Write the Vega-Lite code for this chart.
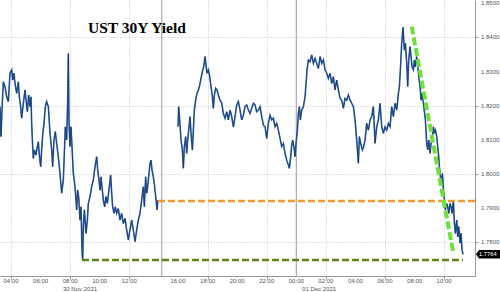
{
  "$schema": "https://vega.github.io/schema/vega-lite/v6.json",
  "width": 475,
  "height": 276,
  "autosize": {"type": "none"},
  "padding": {"left": 0, "top": 0, "right": 25, "bottom": 16},
  "background": "white",
  "title": {"text": "UST 30Y Yield", "anchor": "start", "frame": "group", "dx": 88, "dy": 49, "offset": 0, "baseline": "alphabetic", "font": "Liberation Serif", "fontSize": 15.5, "fontWeight": "bold", "color": "#000000"},
  "config": {
    "view": {"stroke": null},
    "axis": {"labels": false, "gridColor": "#c4c4c4", "gridDash": [1, 2], "gridWidth": 1, "domainColor": "#999999", "tickColor": "#999999", "title": null}
  },
  "datasets": {
    "yield": [
      {"t":3.256,"v":1.8197,"s":1},{"t":3.323,"v":1.8109,"s":1},{"t":3.391,"v":1.8187,"s":1},{"t":3.481,"v":1.8270,"s":1},{"t":3.594,"v":1.8256,"s":1},{"t":3.707,"v":1.8226,"s":1},{"t":3.820,"v":1.8212,"s":1},{"t":3.932,"v":1.8295,"s":1},{"t":4.045,"v":1.8305,"s":1},{"t":4.113,"v":1.8275,"s":1},{"t":4.203,"v":1.8295,"s":1},{"t":4.271,"v":1.8265,"s":1},{"t":4.383,"v":1.8236,"s":1},{"t":4.496,"v":1.8270,"s":1},{"t":4.564,"v":1.8226,"s":1},{"t":4.654,"v":1.8197,"s":1},{"t":4.722,"v":1.8163,"s":1},{"t":4.834,"v":1.8207,"s":1},{"t":4.947,"v":1.8246,"s":1},{"t":5.015,"v":1.8217,"s":1},{"t":5.105,"v":1.8182,"s":1},{"t":5.195,"v":1.8231,"s":1},{"t":5.286,"v":1.8197,"s":1},{"t":5.353,"v":1.8226,"s":1},{"t":5.398,"v":1.8148,"s":1},{"t":5.466,"v":1.8080,"s":1},{"t":5.511,"v":1.8045,"s":1},{"t":5.579,"v":1.8070,"s":1},{"t":5.691,"v":1.8055,"s":1},{"t":5.782,"v":1.8080,"s":1},{"t":5.849,"v":1.8094,"s":1},{"t":5.917,"v":1.8055,"s":1},{"t":6.007,"v":1.8021,"s":1},{"t":6.075,"v":1.8070,"s":1},{"t":6.143,"v":1.8114,"s":1},{"t":6.233,"v":1.8148,"s":1},{"t":6.323,"v":1.8197,"s":1},{"t":6.413,"v":1.8212,"s":1},{"t":6.526,"v":1.8197,"s":1},{"t":6.639,"v":1.8119,"s":1},{"t":6.751,"v":1.8070,"s":1},{"t":6.819,"v":1.8021,"s":1},{"t":6.909,"v":1.8099,"s":1},{"t":6.999,"v":1.8124,"s":1},{"t":7.090,"v":1.8089,"s":1},{"t":7.202,"v":1.8050,"s":1},{"t":7.315,"v":1.8001,"s":1},{"t":7.428,"v":1.7943,"s":1},{"t":7.541,"v":1.7982,"s":1},{"t":7.608,"v":1.8060,"s":1},{"t":7.676,"v":1.8138,"s":1},{"t":7.766,"v":1.8099,"s":1},{"t":7.834,"v":1.8217,"s":1},{"t":7.879,"v":1.8353,"s":1},{"t":7.924,"v":1.8148,"s":1},{"t":7.992,"v":1.8080,"s":1},{"t":8.059,"v":1.8138,"s":1},{"t":8.127,"v":1.8080,"s":1},{"t":8.217,"v":1.8001,"s":1},{"t":8.330,"v":1.7962,"s":1},{"t":8.443,"v":1.7894,"s":1},{"t":8.510,"v":1.7952,"s":1},{"t":8.578,"v":1.7933,"s":1},{"t":8.668,"v":1.7864,"s":1},{"t":8.736,"v":1.7903,"s":1},{"t":8.804,"v":1.7776,"s":1},{"t":8.849,"v":1.7747,"s":1},{"t":8.894,"v":1.7845,"s":1},{"t":8.962,"v":1.7894,"s":1},
      {"t":9.074,"v":1.7825,"s":1},{"t":9.165,"v":1.7864,"s":1},{"t":9.232,"v":1.7913,"s":1},{"t":9.345,"v":1.7933,"s":1},{"t":9.458,"v":1.7962,"s":1},{"t":9.571,"v":1.7982,"s":1},{"t":9.683,"v":1.8021,"s":1},{"t":9.796,"v":1.8050,"s":1},{"t":9.864,"v":1.8011,"s":1},{"t":9.954,"v":1.7982,"s":1},{"t":10.022,"v":1.7952,"s":1},{"t":10.089,"v":1.7991,"s":1},{"t":10.157,"v":1.7962,"s":1},{"t":10.247,"v":1.7923,"s":1},{"t":10.337,"v":1.7903,"s":1},{"t":10.428,"v":1.7933,"s":1},{"t":10.518,"v":1.7913,"s":1},{"t":10.653,"v":1.7962,"s":1},{"t":10.743,"v":1.7996,"s":1},{"t":10.811,"v":1.7943,"s":1},{"t":10.879,"v":1.7903,"s":1},{"t":10.969,"v":1.7884,"s":1},{"t":11.059,"v":1.7903,"s":1},{"t":11.149,"v":1.7884,"s":1},{"t":11.262,"v":1.7898,"s":1},{"t":11.375,"v":1.7864,"s":1},{"t":11.488,"v":1.7884,"s":1},{"t":11.600,"v":1.7854,"s":1},{"t":11.713,"v":1.7869,"s":1},{"t":11.826,"v":1.7835,"s":1},{"t":11.939,"v":1.7806,"s":1},{"t":12.051,"v":1.7835,"s":1},{"t":12.164,"v":1.7864,"s":1},{"t":12.277,"v":1.7835,"s":1},{"t":12.390,"v":1.7801,"s":1},{"t":12.502,"v":1.7835,"s":1},{"t":12.615,"v":1.7864,"s":1},{"t":12.728,"v":1.7884,"s":1},{"t":12.841,"v":1.7923,"s":1},{"t":12.954,"v":1.7962,"s":1},{"t":13.021,"v":1.7903,"s":1},{"t":13.111,"v":1.7991,"s":1},{"t":13.179,"v":1.7943,"s":1},{"t":13.247,"v":1.7962,"s":1},{"t":13.337,"v":1.8001,"s":1},{"t":13.405,"v":1.8031,"s":1},{"t":13.472,"v":1.8040,"s":1},{"t":13.540,"v":1.8011,"s":1},{"t":13.630,"v":1.7991,"s":1},{"t":13.720,"v":1.7962,"s":1},{"t":13.811,"v":1.7923,"s":1},{"t":13.878,"v":1.7894,"s":1},{"t":13.946,"v":1.7923,"s":1},
      {"t":15.299,"v":1.8138,"s":2},{"t":15.344,"v":1.8197,"s":2},{"t":15.412,"v":1.8158,"s":2},{"t":15.502,"v":1.8099,"s":2},{"t":15.592,"v":1.8070,"s":2},{"t":15.660,"v":1.8016,"s":2},{"t":15.728,"v":1.8080,"s":2},{"t":15.818,"v":1.8109,"s":2},{"t":15.885,"v":1.8060,"s":2},{"t":15.953,"v":1.8099,"s":2},{"t":16.043,"v":1.8138,"s":2},{"t":16.111,"v":1.8168,"s":2},{"t":16.179,"v":1.8119,"s":2},{"t":16.269,"v":1.8070,"s":2},{"t":16.337,"v":1.8128,"s":2},{"t":16.404,"v":1.8187,"s":2},{"t":16.494,"v":1.8217,"s":2},{"t":16.585,"v":1.8236,"s":2},{"t":16.675,"v":1.8246,"s":2},{"t":16.765,"v":1.8260,"s":2},{"t":16.855,"v":1.8280,"s":2},{"t":16.946,"v":1.8300,"s":2},{"t":17.036,"v":1.8314,"s":2},{"t":17.126,"v":1.8344,"s":2},{"t":17.194,"v":1.8319,"s":2},{"t":17.261,"v":1.8295,"s":2},{"t":17.352,"v":1.8305,"s":2},{"t":17.442,"v":1.8285,"s":2},{"t":17.532,"v":1.8256,"s":2},{"t":17.622,"v":1.8226,"s":2},{"t":17.690,"v":1.8192,"s":2},{"t":17.758,"v":1.8231,"s":2},{"t":17.848,"v":1.8251,"s":2},{"t":17.938,"v":1.8246,"s":2},{"t":18.028,"v":1.8231,"s":2},{"t":18.141,"v":1.8217,"s":2},{"t":18.254,"v":1.8207,"s":2},{"t":18.366,"v":1.8177,"s":2},{"t":18.479,"v":1.8163,"s":2},{"t":18.592,"v":1.8182,"s":2},{"t":18.705,"v":1.8158,"s":2},{"t":18.817,"v":1.8187,"s":2},{"t":18.930,"v":1.8168,"s":2},{"t":19.043,"v":1.8138,"s":2},{"t":19.156,"v":1.8168,"s":2},{"t":19.269,"v":1.8202,"s":2},{"t":19.381,"v":1.8212,"s":2},{"t":19.494,"v":1.8187,"s":2},{"t":19.607,"v":1.8158,"s":2},{"t":19.720,"v":1.8172,"s":2},{"t":19.832,"v":1.8197,"s":2},{"t":19.945,"v":1.8202,"s":2},{"t":20.058,"v":1.8187,"s":2},{"t":20.171,"v":1.8177,"s":2},
      {"t":20.283,"v":1.8192,"s":2},{"t":20.396,"v":1.8207,"s":2},{"t":20.509,"v":1.8202,"s":2},{"t":20.622,"v":1.8182,"s":2},{"t":20.734,"v":1.8187,"s":2},{"t":20.847,"v":1.8197,"s":2},{"t":20.960,"v":1.8168,"s":2},{"t":21.073,"v":1.8143,"s":2},{"t":21.186,"v":1.8138,"s":2},{"t":21.298,"v":1.8104,"s":2},{"t":21.411,"v":1.8148,"s":2},{"t":21.524,"v":1.8172,"s":2},{"t":21.637,"v":1.8158,"s":2},{"t":21.749,"v":1.8163,"s":2},{"t":21.862,"v":1.8138,"s":2},{"t":21.975,"v":1.8148,"s":2},{"t":22.088,"v":1.8128,"s":2},{"t":22.200,"v":1.8104,"s":2},{"t":22.313,"v":1.8080,"s":2},{"t":22.426,"v":1.8089,"s":2},{"t":22.539,"v":1.8060,"s":2},{"t":22.652,"v":1.8040,"s":2},{"t":22.764,"v":1.8026,"s":2},{"t":22.832,"v":1.8016,"s":2},{"t":22.922,"v":1.8050,"s":2},{"t":22.990,"v":1.8084,"s":2},{"t":23.058,"v":1.8099,"s":2},{"t":23.148,"v":1.8075,"s":2},{"t":23.215,"v":1.8050,"s":2},{"t":23.283,"v":1.8089,"s":2},{"t":23.373,"v":1.8128,"s":2},{"t":23.441,"v":1.8177,"s":2},{"t":23.508,"v":1.8197,"s":2},{"t":23.576,"v":1.8158,"s":2},{"t":23.666,"v":1.8187,"s":2},{"t":23.779,"v":1.8197,"s":2},{"t":23.892,"v":1.8226,"s":2},{"t":23.960,"v":1.8265,"s":2},{"t":24.027,"v":1.8305,"s":2},{"t":24.117,"v":1.8334,"s":2},{"t":24.230,"v":1.8329,"s":2},{"t":24.343,"v":1.8349,"s":2},{"t":24.456,"v":1.8324,"s":2},{"t":24.569,"v":1.8339,"s":2},{"t":24.681,"v":1.8324,"s":2},{"t":24.794,"v":1.8309,"s":2},{"t":24.907,"v":1.8344,"s":2},{"t":25.020,"v":1.8324,"s":2},{"t":25.132,"v":1.8334,"s":2},{"t":25.245,"v":1.8305,"s":2},
      {"t":25.358,"v":1.8295,"s":2},{"t":25.471,"v":1.8280,"s":2},{"t":25.583,"v":1.8295,"s":2},{"t":25.696,"v":1.8265,"s":2},{"t":25.809,"v":1.8285,"s":2},{"t":25.922,"v":1.8246,"s":2},{"t":26.034,"v":1.8275,"s":2},{"t":26.147,"v":1.8246,"s":2},{"t":26.260,"v":1.8221,"s":2},{"t":26.373,"v":1.8216,"s":2},{"t":26.486,"v":1.8192,"s":2},{"t":26.598,"v":1.8221,"s":2},{"t":26.711,"v":1.8216,"s":2},{"t":26.824,"v":1.8231,"s":2},{"t":26.937,"v":1.8216,"s":2},{"t":27.049,"v":1.8207,"s":2},{"t":27.162,"v":1.8197,"s":2},{"t":27.275,"v":1.8158,"s":2},{"t":27.388,"v":1.8099,"s":2},{"t":27.500,"v":1.8031,"s":2},{"t":27.568,"v":1.8109,"s":2},{"t":27.658,"v":1.8089,"s":2},{"t":27.771,"v":1.8070,"s":2},{"t":27.861,"v":1.8080,"s":2},{"t":27.951,"v":1.8099,"s":2},{"t":28.064,"v":1.8148,"s":2},{"t":28.177,"v":1.8128,"s":2},{"t":28.290,"v":1.8158,"s":2},{"t":28.402,"v":1.8168,"s":2},{"t":28.515,"v":1.8197,"s":2},{"t":28.628,"v":1.8089,"s":2},{"t":28.741,"v":1.8138,"s":2},{"t":28.853,"v":1.8158,"s":2},{"t":28.966,"v":1.8207,"s":2},{"t":29.079,"v":1.8138,"s":2},{"t":29.192,"v":1.8119,"s":2},{"t":29.304,"v":1.8138,"s":2},{"t":29.417,"v":1.8128,"s":2},{"t":29.530,"v":1.8148,"s":2},{"t":29.643,"v":1.8138,"s":2},{"t":29.756,"v":1.8197,"s":2},{"t":29.868,"v":1.8168,"s":2},{"t":29.981,"v":1.8207,"s":2},{"t":30.094,"v":1.8187,"s":2},{"t":30.207,"v":1.8236,"s":2},{"t":30.274,"v":1.8256,"s":2},{"t":30.342,"v":1.8305,"s":2},{"t":30.432,"v":1.8383,"s":2},{"t":30.520,"v":1.8430,"s":2},
      {"t":30.613,"v":1.8363,"s":2},{"t":30.681,"v":1.8383,"s":2},{"t":30.771,"v":1.8324,"s":2},{"t":30.839,"v":1.8256,"s":2},{"t":30.906,"v":1.8334,"s":2},{"t":30.997,"v":1.8373,"s":2},{"t":31.064,"v":1.8344,"s":2},{"t":31.132,"v":1.8314,"s":2},{"t":31.222,"v":1.8305,"s":2},{"t":31.290,"v":1.8334,"s":2},{"t":31.357,"v":1.8314,"s":2},{"t":31.448,"v":1.8344,"s":2},{"t":31.515,"v":1.8324,"s":2},{"t":31.583,"v":1.8285,"s":2},{"t":31.673,"v":1.8256,"s":2},{"t":31.741,"v":1.8216,"s":2},{"t":31.809,"v":1.8236,"s":2},{"t":31.899,"v":1.8207,"s":2},{"t":31.966,"v":1.8182,"s":2},{"t":32.034,"v":1.8158,"s":2},{"t":32.124,"v":1.8089,"s":2},{"t":32.192,"v":1.8070,"s":2},{"t":32.260,"v":1.8099,"s":2},{"t":32.350,"v":1.8060,"s":2},{"t":32.417,"v":1.8089,"s":2},{"t":32.485,"v":1.8099,"s":2},{"t":32.575,"v":1.8138,"s":2},{"t":32.643,"v":1.8119,"s":2},{"t":32.711,"v":1.8128,"s":2},{"t":32.801,"v":1.8109,"s":2},{"t":32.868,"v":1.8080,"s":2},{"t":32.936,"v":1.8050,"s":2},{"t":32.981,"v":1.8021,"s":2},{"t":33.049,"v":1.7991,"s":2},{"t":33.117,"v":1.7972,"s":2},{"t":33.184,"v":1.8001,"s":2},{"t":33.252,"v":1.7952,"s":2},{"t":33.320,"v":1.7923,"s":2},{"t":33.387,"v":1.7894,"s":2},{"t":33.477,"v":1.7913,"s":2},{"t":33.545,"v":1.7903,"s":2},{"t":33.613,"v":1.7884,"s":2},{"t":33.703,"v":1.7913,"s":2},{"t":33.771,"v":1.7903,"s":2},{"t":33.838,"v":1.7884,"s":2},{"t":33.928,"v":1.7923,"s":2},{"t":33.996,"v":1.7855,"s":2},{"t":34.064,"v":1.7825,"s":2},{"t":34.154,"v":1.7864,"s":2},{"t":34.222,"v":1.7815,"s":2},{"t":34.289,"v":1.7845,"s":2},{"t":34.379,"v":1.7796,"s":2},{"t":34.447,"v":1.7825,"s":2},{"t":34.515,"v":1.7776,"s":2},{"t":34.582,"v":1.7764,"s":2}
    ],
    "breaks": [{"t": 14.2}, {"t": 23.3}],
    "orange": [{"t": 13.946, "t2": 35.39, "v": 1.7920}],
    "olive": [{"t": 8.80, "t2": 34.58, "v": 1.7747}],
    "trend": [{"t": 31.109, "v": 1.8432, "t2": 33.928, "v2": 1.7766}],
    "xticks": [{"t": 4, "label": "04:00"}, {"t": 6, "label": "06:00"}, {"t": 8, "label": "08:00"}, {"t": 10, "label": "10:00"}, {"t": 12, "label": "12:00"}, {"t": 15.3, "label": "16:00"}, {"t": 17.3, "label": "18:00"}, {"t": 19.3, "label": "20:00"}, {"t": 21.3, "label": "22:00"}, {"t": 23.3, "label": "00:00"}, {"t": 25.3, "label": "02:00"}, {"t": 27.3, "label": "04:00"}, {"t": 29.3, "label": "06:00"}, {"t": 31.3, "label": "08:00"}, {"t": 33.3, "label": "10:00"}],
    "yticks": [{"v": 1.78, "label": "1.7800"}, {"v": 1.79, "label": "1.7900"}, {"v": 1.80, "label": "1.8000"}, {"v": 1.81, "label": "1.8100"}, {"v": 1.82, "label": "1.8200"}, {"v": 1.83, "label": "1.8300"}, {"v": 1.84, "label": "1.8400"}, {"v": 1.85, "label": "1.8500"}],
    "dates": [{"t": 7.52, "label": "30 Nov 2021"}, {"t": 23.69, "label": "01 Dec 2021"}],
    "last": [{"t": 35.39, "v": 1.7764, "label": "1.7764"}]
  },
  "layer": [
    {
      "data": {"name": "breaks"},
      "mark": {"type": "rule", "color": "#9a9a9a", "strokeWidth": 1},
      "encoding": {
        "x": {"field": "t", "type": "quantitative",
          "scale": {"domain": [3.256, 35.39], "nice": false, "zero": false},
          "axis": {"orient": "bottom", "values": [4, 6, 8, 10, 12, 15.3, 17.3, 19.3, 21.3, 23.3, 25.3, 27.3, 29.3, 31.3, 33.3], "labels": false, "tickSize": 3, "domain": true, "grid": true}}
      }
    },
    {
      "data": {"name": "yield"},
      "mark": {"type": "line", "color": "#2f66b3", "strokeWidth": 1.6},
      "encoding": {
        "x": {"field": "t", "type": "quantitative"},
        "y": {"field": "v", "type": "quantitative",
          "scale": {"domain": [1.77, 1.851], "nice": false, "zero": false},
          "axis": {"orient": "right", "values": [1.78, 1.79, 1.80, 1.81, 1.82, 1.83, 1.84, 1.85], "labels": false, "tickSize": 3, "grid": true, "domain": true}},
        "detail": {"field": "s", "type": "nominal"}
      }
    },
    {
      "data": {"name": "yield"},
      "mark": {"type": "line", "color": "#0d1a30", "strokeWidth": 0.6, "opacity": 0.7},
      "encoding": {
        "x": {"field": "t", "type": "quantitative"},
        "y": {"field": "v", "type": "quantitative"},
        "detail": {"field": "s", "type": "nominal"}
      }
    },
    {
      "data": {"name": "orange"},
      "mark": {"type": "rule", "color": "#f09a30", "strokeWidth": 2.5, "strokeDash": [7, 3]},
      "encoding": {
        "x": {"field": "t", "type": "quantitative"},
        "x2": {"field": "t2"},
        "y": {"field": "v", "type": "quantitative"}
      }
    },
    {
      "data": {"name": "olive"},
      "mark": {"type": "rule", "color": "#5c8616", "strokeWidth": 2.5, "strokeDash": [7, 3]},
      "encoding": {
        "x": {"field": "t", "type": "quantitative"},
        "x2": {"field": "t2"},
        "y": {"field": "v", "type": "quantitative"}
      }
    },
    {
      "data": {"name": "trend"},
      "mark": {"type": "rule", "color": "#6ee03a", "strokeWidth": 4, "strokeDash": [8, 3]},
      "encoding": {
        "x": {"field": "t", "type": "quantitative"},
        "x2": {"field": "t2"},
        "y": {"field": "v", "type": "quantitative"},
        "y2": {"field": "v2"}
      }
    },
    {
      "data": {"name": "xticks"},
      "mark": {"type": "text", "align": "center", "baseline": "middle", "dy": 5, "fontSize": 6, "font": "Liberation Sans", "color": "#555555", "clip": false},
      "encoding": {
        "x": {"field": "t", "type": "quantitative"},
        "y": {"datum": 1.77, "type": "quantitative"},
        "text": {"field": "label"}
      }
    },
    {
      "data": {"name": "yticks"},
      "mark": {"type": "text", "align": "left", "baseline": "middle", "dx": 6, "fontSize": 6, "font": "Liberation Sans", "color": "#555555", "clip": false},
      "encoding": {
        "x": {"datum": 35.39, "type": "quantitative"},
        "y": {"field": "v", "type": "quantitative"},
        "text": {"field": "label"}
      }
    },
    {
      "data": {"name": "dates"},
      "mark": {"type": "text", "align": "left", "baseline": "middle", "dy": 13, "fontSize": 6, "font": "Liberation Sans", "color": "#555555", "clip": false},
      "encoding": {
        "x": {"field": "t", "type": "quantitative"},
        "y": {"datum": 1.77, "type": "quantitative"},
        "text": {"field": "label"}
      }
    },
    {
      "data": {"name": "last"},
      "mark": {"type": "point", "shape": "M0.2,0 L0.8,-0.85 L5,-0.85 L5,0.85 L0.8,0.85 Z", "size": 100, "filled": true, "color": "#000000", "opacity": 1, "clip": false},
      "encoding": {
        "x": {"field": "t", "type": "quantitative"},
        "y": {"field": "v", "type": "quantitative"}
      }
    },
    {
      "data": {"name": "last"},
      "mark": {"type": "text", "align": "left", "baseline": "middle", "dx": 4, "fontSize": 5.8, "font": "Liberation Sans", "color": "#ffffff", "clip": false},
      "encoding": {
        "x": {"field": "t", "type": "quantitative"},
        "y": {"field": "v", "type": "quantitative"},
        "text": {"field": "label"}
      }
    }
  ]
}
